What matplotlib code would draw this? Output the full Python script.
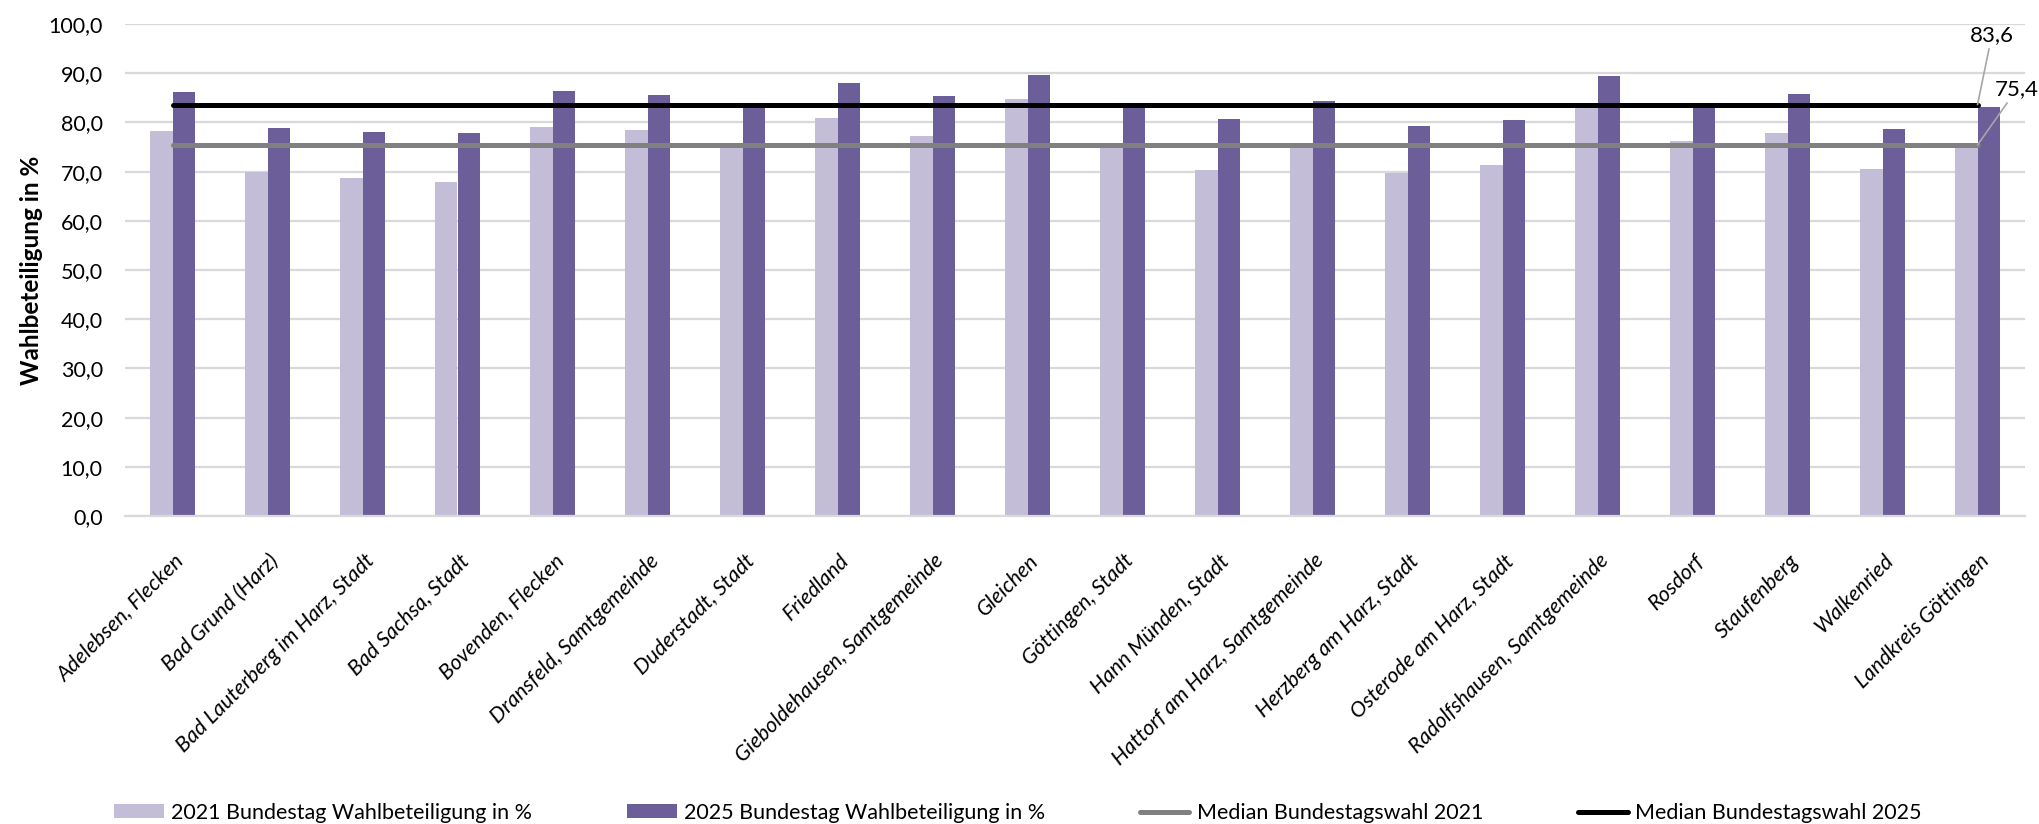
import matplotlib
matplotlib.use("Agg")
import matplotlib.pyplot as plt
import matplotlib.transforms as mtransforms
import numpy as np

plt.rcParams['font.family'] = ['Lato', 'DejaVu Sans']

gemeinden = [
    "Adelebsen, Flecken", "Bad Grund (Harz)", "Bad Lauterberg im Harz, Stadt",
    "Bad Sachsa, Stadt", "Bovenden, Flecken", "Dransfeld, Samtgemeinde",
    "Duderstadt, Stadt", "Friedland", "Gieboldehausen, Samtgemeinde", "Gleichen",
    "Göttingen, Stadt", "Hann Münden, Stadt", "Hattorf am Harz, Samtgemeinde",
    "Herzberg am Harz, Stadt", "Osterode am Harz, Stadt", "Radolfshausen, Samtgemeinde",
    "Rosdorf", "Staufenberg", "Walkenried", "Landkreis Göttingen",
]
wb_2021 = [78.2, 69.9, 68.6, 67.8, 79.0, 78.5, 75.2, 80.9, 77.3, 84.7,
           75.5, 70.3, 75.3, 69.7, 71.4, 83.4, 76.2, 77.8, 70.5, 75.4]
wb_2025 = [86.1, 78.9, 78.1, 77.9, 86.4, 85.6, 83.5, 88.1, 85.3, 89.7,
           83.3, 80.6, 84.4, 79.2, 80.5, 89.4, 83.7, 85.7, 78.7, 83.1]
median_2021 = 75.4
median_2025 = 83.6

c_light = "#c3bdd7"
c_dark = "#6b5e99"

def de(v):
    return f"{v:.1f}".replace(".", ",")

fig = plt.figure(figsize=(20.4, 8.24), dpi=100)
ax = fig.add_axes([125 / 2040, 1 - 516 / 824, 1900 / 2040, 492 / 824])

x = np.arange(len(gemeinden))
w = 0.235
b1 = ax.bar(x - w / 2, wb_2021, w, color=c_light, label="2021 Bundestag Wahlbeteiligung in %", zorder=2)
b2 = ax.bar(x + w / 2, wb_2025, w, color=c_dark, label="2025 Bundestag Wahlbeteiligung in %", zorder=2)
l1, = ax.plot(x, [median_2021] * len(x), color="#808080", lw=3.6, solid_capstyle="round",
              label="Median Bundestagswahl 2021", zorder=3)
l2, = ax.plot(x, [median_2025] * len(x), color="#000000", lw=3.6, solid_capstyle="round",
              label="Median Bundestagswahl 2025", zorder=3)

ax.annotate(de(median_2025), xy=(x[-1], median_2025), xytext=(10.4, 50.4),
            textcoords="offset points", ha="center", va="center", fontsize=16,
            arrowprops=dict(arrowstyle="-", color="#a6a6a6", lw=1.2, shrinkA=1, shrinkB=0))
ax.annotate(de(median_2021), xy=(x[-1], median_2021), xytext=(28.4, 40.3),
            textcoords="offset points", ha="center", va="center", fontsize=16,
            arrowprops=dict(arrowstyle="-", color="#a6a6a6", lw=1.2, shrinkA=1, shrinkB=0))

ax.set_xlim(-0.5, len(x) - 0.5)
ax.set_ylim(0, 100)
ax.set_yticks(np.arange(0, 101, 10))
ax.set_yticklabels([de(v) for v in np.arange(0, 101, 10)], fontsize=15.5)
ax.yaxis.grid(True, color="#d9d9d9", lw=1.6, zorder=0)
ax.set_axisbelow(True)
for s in ["top", "right", "left"]:
    ax.spines[s].set_visible(False)
ax.spines["bottom"].set_color("#d9d9d9")
ax.spines["bottom"].set_linewidth(1.6)
ax.tick_params(axis="y", length=0, pad=16)
ax.tick_params(axis="x", length=0, pad=30)

ax.set_xticks(x)
ax.set_xticklabels(gemeinden, rotation=45, ha="right", va="center",
                   rotation_mode="anchor", fontsize=15.5, style="italic")
shift = mtransforms.ScaledTranslation(6 / 72, 0, fig.dpi_scale_trans)
for t in ax.get_xticklabels():
    t.set_transform(t.get_transform() + shift)

ax.set_ylabel("Wahlbeteiligung in %", fontsize=17.5, fontweight="bold", labelpad=4)

fig.legend(handles=[b1, b2, l1, l2], loc="lower center", bbox_to_anchor=(0.499, -0.022),
           ncol=4, frameon=False, fontsize=15.5, handlelength=2.3, handleheight=0.6,
           handletextpad=0.35, columnspacing=4.4)

fig.savefig("out.png", dpi=100)
